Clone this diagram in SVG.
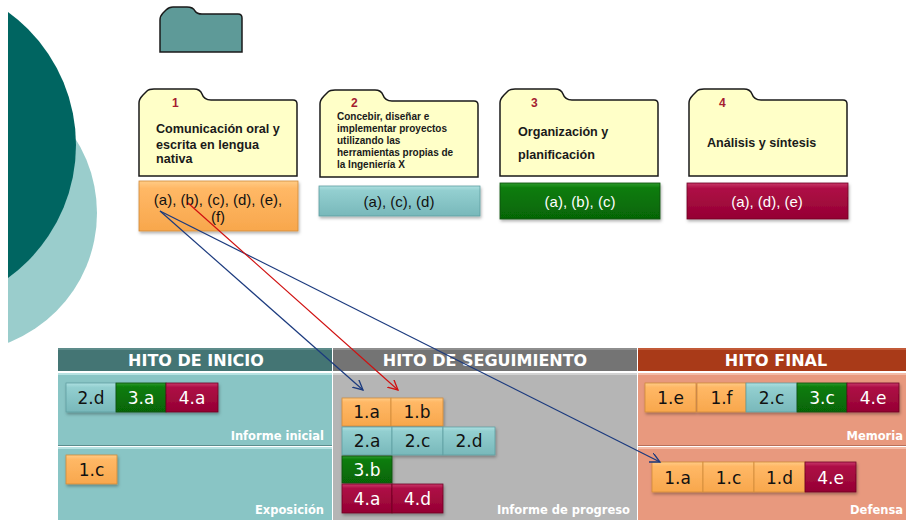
<svg xmlns="http://www.w3.org/2000/svg" width="906" height="520" viewBox="0 0 906 520">
<style>
.fold{fill:#FFFFC8;stroke:#1a1a1a;stroke-width:1.5}
.num{font-family:"Liberation Sans",Arial,sans-serif;font-weight:bold;font-size:12px;fill:#A51C30}
.ft{font-family:"Liberation Sans",Arial,sans-serif;font-weight:bold;font-size:12.6px;fill:#1a1a1a}
.ft2{font-family:"Liberation Sans",Arial,sans-serif;font-weight:bold;font-size:10px;fill:#1a1a1a}
.bt{font-family:"Liberation Sans",Arial,sans-serif;font-size:15px;text-anchor:middle}
.hd{font-family:"DejaVu Sans",Verdana,sans-serif;font-weight:bold;font-size:16px;fill:#fff;text-anchor:middle}
.lb{font-family:"DejaVu Sans",Verdana,sans-serif;font-weight:bold;font-size:11.5px;fill:#fff;text-anchor:end}
.it{font-family:"DejaVu Sans",Verdana,sans-serif;font-size:17px;text-anchor:middle}
.dk{fill:#111}
.wh{fill:#fff}
.o{fill:url(#gO);stroke:#D08A3A;stroke-width:0.8}
.t{fill:url(#gT);stroke:#5E9EA0;stroke-width:0.8}
.g{fill:url(#gG);stroke:#0B4F0B;stroke-width:0.8}
.r{fill:url(#gR);stroke:#6E0022;stroke-width:0.8}
.con{fill:none;stroke-width:1.2}
</style>
<defs>
<clipPath id="clipL"><rect x="8" y="0" width="898" height="520"/></clipPath>
<linearGradient id="gO" x1="0" y1="0" x2="0" y2="1"><stop offset="0" stop-color="#FFCB85"/><stop offset="0.15" stop-color="#FFB866"/><stop offset="1" stop-color="#F8A74C"/></linearGradient>
<linearGradient id="gT" x1="0" y1="0" x2="0" y2="1"><stop offset="0" stop-color="#AEE0E1"/><stop offset="0.15" stop-color="#93CFD0"/><stop offset="1" stop-color="#78B8BA"/></linearGradient>
<linearGradient id="gG" x1="0" y1="0" x2="0" y2="1"><stop offset="0" stop-color="#2E9A2E"/><stop offset="0.15" stop-color="#0A7C0A"/><stop offset="1" stop-color="#066506"/></linearGradient>
<linearGradient id="gR" x1="0" y1="0" x2="0" y2="1"><stop offset="0" stop-color="#C8386A"/><stop offset="0.15" stop-color="#AE1046"/><stop offset="1" stop-color="#950033"/></linearGradient>
<filter id="sh" x="-10%" y="-10%" width="130%" height="140%"><feDropShadow dx="1" dy="2" stdDeviation="1.5" flood-color="#000" flood-opacity="0.3"/></filter>
<path id="folder" d="M0,87 L0,14 Q0,10 4,6 L8,2 Q10,0 15,0 L55,0 Q61,0 63,5 Q65,11 72,11 L154,11 Q158,11 158,15 L158,87 Z"/>
<marker id="aB" markerWidth="12" markerHeight="12" refX="10" refY="5" orient="auto" markerUnits="userSpaceOnUse"><path d="M0,0 L10,5 L0,10" fill="none" stroke="#1B3A7E" stroke-width="1.3"/></marker>
<marker id="aR" markerWidth="12" markerHeight="12" refX="10" refY="5" orient="auto" markerUnits="userSpaceOnUse"><path d="M0,0 L10,5 L0,10" fill="none" stroke="#D01010" stroke-width="1.3"/></marker>
</defs>

<g id="background" clip-path="url(#clipL)">
<circle cx="-42" cy="213" r="139" fill="#9ACDCC"/>
<circle cx="-88" cy="145" r="164" fill="#006561"/>
</g>

<g id="top-folder">
<path d="M160,52 L160,20 Q160,16 163,13 L166,10 Q169,7 173,7 L187,7 Q193,7 195,11 Q197,14 202,14 L238,14 Q242,14 242,18 L242,52 Z" fill="#5E9A98" stroke="#1a1a1a" stroke-width="1.5"/>
</g>

<g id="comp1">
<use href="#folder" x="139" y="89" class="fold"/>
<text class="num" x="172" y="107">1</text>
<text class="ft" x="156" y="133">Comunicación oral y</text>
<text class="ft" x="156" y="149">escrita en lengua</text>
<text class="ft" x="156" y="163">nativa</text>
<rect x="139" y="181" width="159" height="50" class="o" filter="url(#sh)"/>
<text class="bt dk" x="218" y="205">(a), (b), (c), (d), (e),</text>
<text class="bt dk" x="218" y="222">(f)</text>
</g>

<g id="comp2">
<use href="#folder" x="320" y="90" class="fold"/>
<text class="num" x="351" y="107">2</text>
<text class="ft2" x="337" y="120">Concebir, diseñar e</text>
<text class="ft2" x="337" y="132">implementar proyectos</text>
<text class="ft2" x="337" y="144">utilizando las</text>
<text class="ft2" x="337" y="156">herramientas propias de</text>
<text class="ft2" x="337" y="168">la Ingeniería X</text>
<rect x="319" y="186" width="161" height="30" class="t" filter="url(#sh)"/>
<text class="bt dk" x="399" y="207">(a), (c), (d)</text>
</g>

<g id="comp3">
<use href="#folder" x="500" y="89" class="fold"/>
<text class="num" x="531" y="107">3</text>
<text class="ft" x="518" y="136">Organización y</text>
<text class="ft" x="518" y="159">planificación</text>
<rect x="500" y="183" width="160" height="36" class="g" filter="url(#sh)"/>
<text class="bt wh" x="580" y="207">(a), (b), (c)</text>
</g>

<g id="comp4">
<use href="#folder" x="689" y="89" class="fold"/>
<text class="num" x="719" y="107">4</text>
<text class="ft" x="707" y="147">Análisis y síntesis</text>
<rect x="687" y="183" width="161" height="36" class="r" filter="url(#sh)"/>
<text class="bt wh" x="767" y="207">(a), (d), (e)</text>
</g>

<g id="hito-inicio">
<rect x="58" y="348" width="274" height="23" fill="#447574"/>
<rect x="58" y="348" width="274" height="2" fill="#5D8B8A"/>
<text class="hd" x="196" y="366">HITO DE INICIO</text>
<rect x="58" y="373" width="274" height="72" fill="#89C5C5"/>
<rect x="58" y="373" width="274" height="2" fill="#B6E2E2"/>
<line x1="58" y1="445.5" x2="332" y2="445.5" stroke="#5C8E8E" stroke-width="1"/>
<rect x="58" y="447" width="274" height="73" fill="#89C5C5"/>
<rect x="58" y="447" width="274" height="2" fill="#B6E2E2"/>
<g filter="url(#sh)">
<rect x="66" y="383" width="50" height="29" class="t"/>
<rect x="116" y="383" width="50" height="29" class="g"/>
<rect x="166" y="383" width="52" height="29" class="r"/>
<rect x="66" y="455" width="51" height="29" class="o"/>
</g>
<text class="it dk" x="91" y="404">2.d</text>
<text class="it wh" x="141" y="404">3.a</text>
<text class="it wh" x="192" y="404">4.a</text>
<text class="it dk" x="91.5" y="476">1.c</text>
<text class="lb" x="324" y="440">Informe inicial</text>
<text class="lb" x="324" y="514">Exposición</text>
</g>

<g id="hito-seguimiento">
<rect x="333" y="348" width="304" height="23" fill="#747474"/>
<rect x="333" y="348" width="304" height="2" fill="#8E8E8E"/>
<text class="hd" x="485" y="366">HITO DE SEGUIMIENTO</text>
<rect x="333" y="373" width="304" height="147" fill="#B5B5B5"/>
<rect x="333" y="373" width="304" height="2" fill="#D2D2D2"/>
<g filter="url(#sh)">
<rect x="342" y="398" width="49" height="28" class="o"/>
<rect x="391" y="398" width="52" height="28" class="o"/>
<rect x="342" y="427" width="50" height="28" class="t"/>
<rect x="392" y="427" width="51" height="28" class="t"/>
<rect x="443" y="427" width="52" height="28" class="t"/>
<rect x="342" y="456" width="50" height="27" class="g"/>
<rect x="342" y="484" width="50" height="29" class="r"/>
<rect x="392" y="484" width="51" height="29" class="r"/>
</g>
<text class="it dk" x="366.5" y="418">1.a</text>
<text class="it dk" x="417" y="418">1.b</text>
<text class="it dk" x="367" y="447">2.a</text>
<text class="it dk" x="417.5" y="447">2.c</text>
<text class="it dk" x="469" y="447">2.d</text>
<text class="it wh" x="367" y="476">3.b</text>
<text class="it wh" x="367" y="505">4.a</text>
<text class="it wh" x="417.5" y="505">4.d</text>
<text class="lb" x="630" y="514">Informe de progreso</text>
</g>

<g id="hito-final">
<rect x="638" y="348" width="268" height="23" fill="#A93A18"/>
<rect x="638" y="348" width="268" height="2" fill="#C25A38"/>
<text class="hd" x="776" y="366">HITO FINAL</text>
<rect x="638" y="373" width="268" height="72" fill="#E8997E"/>
<rect x="638" y="373" width="268" height="2" fill="#F4BBA6"/>
<line x1="638" y1="445.5" x2="906" y2="445.5" stroke="#B8705A" stroke-width="1"/>
<rect x="638" y="447" width="268" height="73" fill="#E8997E"/>
<rect x="638" y="447" width="268" height="2" fill="#F4BBA6"/>
<g filter="url(#sh)">
<rect x="645" y="383" width="51" height="29" class="o"/>
<rect x="697" y="383" width="49" height="29" class="o"/>
<rect x="746" y="383" width="51" height="29" class="t"/>
<rect x="797" y="383" width="50" height="29" class="g"/>
<rect x="847" y="383" width="52" height="29" class="r"/>
<rect x="652" y="462" width="51" height="30" class="o"/>
<rect x="703" y="462" width="51" height="30" class="o"/>
<rect x="754" y="462" width="51" height="30" class="o"/>
<rect x="805" y="462" width="51" height="30" class="r"/>
</g>
<text class="it dk" x="670.5" y="404">1.e</text>
<text class="it dk" x="721.5" y="404">1.f</text>
<text class="it dk" x="771.5" y="404">2.c</text>
<text class="it wh" x="822" y="404">3.c</text>
<text class="it wh" x="873" y="404">4.e</text>
<text class="it dk" x="677.5" y="484">1.a</text>
<text class="it dk" x="728.5" y="484">1.c</text>
<text class="it dk" x="779.5" y="484">1.d</text>
<text class="it wh" x="830.5" y="484">4.e</text>
<text class="lb" x="903" y="440">Memoria</text>
<text class="lb" x="903" y="514">Defensa</text>
</g>

<g id="connectors">
<line class="con" x1="160" y1="211" x2="363" y2="390" stroke="#1B3A7E" marker-end="url(#aB)"/>
<line class="con" x1="160" y1="211" x2="660" y2="462" stroke="#1B3A7E" marker-end="url(#aB)"/>
<line class="con" x1="188" y1="203" x2="398" y2="390" stroke="#D01010" marker-end="url(#aR)"/>
</g>
</svg>
